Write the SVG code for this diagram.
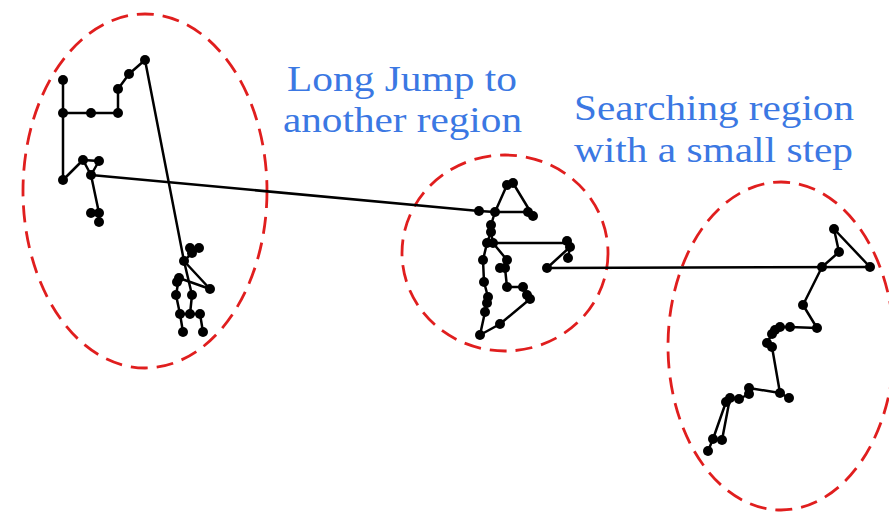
<svg xmlns="http://www.w3.org/2000/svg" width="889" height="519" viewBox="0 0 889 519">
<style>
.region{fill:none;stroke:#e01e1e;stroke-width:2.8;stroke-dasharray:17 9}
.walk{fill:none;stroke:#000;stroke-width:2.5;stroke-linejoin:round;stroke-linecap:round}
.dot{fill:#000}
.lbl{font-family:"Liberation Serif","Times New Roman",serif;font-size:35px;fill:#3b78e3}
</style>
<rect width="889" height="519" fill="#fff"/>
<g id="regions">
<ellipse id="region-left" class="region" cx="145" cy="191" rx="122" ry="177"/>
<ellipse id="region-middle" class="region" cx="505" cy="253" rx="103" ry="98"/>
<ellipse id="region-right" class="region" cx="781" cy="346" rx="113" ry="164"/>
</g>
<g id="connectors">
<path class="walk" d="M63,80 L63,113 L91,113 L118,113 L118,89 L129,74 L145,60 L184,261 L210,289 L179,278 L176,295 L180,314 L183,332"/>
<path class="walk" d="M63,113 L63,180 L83,160 L99,161 L91,175 L83,160"/>
<path class="walk" d="M91,175 L99,213 L91,213 M99,213 L99,222"/>
<path class="walk" d="M184,261 L192,253 L190,248 L199,248 M184,261 L192,295 L190,314 L200,314 L203,332 M180,314 L190,314"/>
<path class="walk" d="M91,175 L479,211"/>
<path class="walk" d="M479,211 L495,212 L528,212 L533,216 L513,183 L507,185 L495,212 L491,225 L491,232 L493,243 L567,243 L570,247 L568,258 M570,247 L547,268"/>
<path class="walk" d="M491,232 L487,243 L483,260 L484,282 L488,297 L487,303 L485,312 L480,335 L500,324 L530,299 L527,295 L523,287 L507,287 L505,268 L500,268 M505,268 L507,260 L493,243"/>
<path class="walk" d="M547,268 L870,267"/>
<path class="walk" d="M870,267 L834,229 L839,252 L822,267 L803,305 L817,328 L790,327 L780,327 L775,330 L772,334 L767,343 L772,347 L780,393 L789,398 M780,393 L749,388 L749,394 L739,399 L730,398 L726,402 L713,439 L708,451 M730,398 L722,440 L713,439"/>
</g>
<g id="dots" class="dot">
<circle cx="63" cy="80" r="5"/><circle cx="63" cy="113" r="5"/><circle cx="91" cy="113" r="5"/><circle cx="118" cy="113" r="5"/>
<circle cx="118" cy="89" r="5"/><circle cx="129" cy="74" r="5"/><circle cx="145" cy="60" r="5"/>
<circle cx="63" cy="180" r="5"/><circle cx="83" cy="160" r="5"/><circle cx="99" cy="161" r="5"/><circle cx="91" cy="175" r="5"/>
<circle cx="91" cy="213" r="5"/><circle cx="99" cy="213" r="5"/><circle cx="99" cy="222" r="5"/>
<circle cx="190" cy="248" r="5"/><circle cx="199" cy="248" r="5"/><circle cx="192" cy="253" r="5"/><circle cx="184" cy="261" r="5"/>
<circle cx="179" cy="278" r="5"/><circle cx="177" cy="282" r="5"/><circle cx="210" cy="289" r="5"/>
<circle cx="176" cy="295" r="5"/><circle cx="192" cy="295" r="5"/>
<circle cx="180" cy="314" r="5"/><circle cx="190" cy="314" r="5"/><circle cx="200" cy="314" r="5"/>
<circle cx="183" cy="332" r="5"/><circle cx="203" cy="332" r="5"/>
<circle cx="479" cy="211" r="5"/><circle cx="495" cy="212" r="5"/><circle cx="528" cy="212" r="5"/><circle cx="533" cy="216" r="5"/>
<circle cx="507" cy="185" r="5"/><circle cx="513" cy="183" r="5"/>
<circle cx="491" cy="225" r="5"/><circle cx="491" cy="232" r="5"/><circle cx="487" cy="243" r="5"/><circle cx="493" cy="243" r="5"/>
<circle cx="567" cy="241" r="5"/><circle cx="570" cy="247" r="5"/><circle cx="568" cy="258" r="5"/><circle cx="547" cy="268" r="5"/>
<circle cx="483" cy="260" r="5"/><circle cx="484" cy="282" r="5"/><circle cx="488" cy="297" r="5"/><circle cx="487" cy="303" r="5"/>
<circle cx="485" cy="312" r="5"/><circle cx="480" cy="335" r="5"/><circle cx="500" cy="324" r="5"/>
<circle cx="530" cy="299" r="5"/><circle cx="527" cy="295" r="5"/><circle cx="523" cy="287" r="5"/><circle cx="507" cy="287" r="5"/>
<circle cx="505" cy="268" r="5"/><circle cx="500" cy="268" r="5"/><circle cx="507" cy="260" r="5"/>
<circle cx="870" cy="267" r="5"/><circle cx="834" cy="229" r="5"/><circle cx="839" cy="252" r="5"/><circle cx="822" cy="267" r="5"/>
<circle cx="803" cy="305" r="5"/><circle cx="817" cy="328" r="5"/><circle cx="790" cy="327" r="5"/><circle cx="780" cy="327" r="5"/>
<circle cx="775" cy="330" r="5"/><circle cx="772" cy="334" r="5"/><circle cx="767" cy="343" r="5"/><circle cx="772" cy="347" r="5"/>
<circle cx="780" cy="393" r="5"/><circle cx="789" cy="398" r="5"/><circle cx="749" cy="388" r="5"/><circle cx="749" cy="394" r="5"/>
<circle cx="739" cy="399" r="5"/><circle cx="730" cy="398" r="5"/><circle cx="726" cy="402" r="5"/>
<circle cx="713" cy="439" r="5"/><circle cx="722" cy="440" r="5"/><circle cx="708" cy="451" r="5"/>
</g>
<g id="label-long-jump">
<text class="lbl" x="287" y="91" textLength="230" lengthAdjust="spacingAndGlyphs">Long Jump to</text>
<text class="lbl" x="283" y="132" textLength="239" lengthAdjust="spacingAndGlyphs">another region</text>
</g>
<g id="label-searching">
<text class="lbl" x="574" y="120" textLength="280" lengthAdjust="spacingAndGlyphs">Searching region</text>
<text class="lbl" x="574" y="162" textLength="279" lengthAdjust="spacingAndGlyphs">with a small step</text>
</g>
</svg>
